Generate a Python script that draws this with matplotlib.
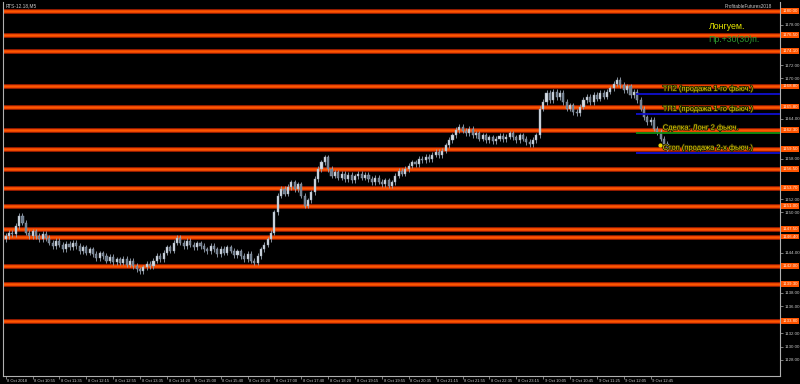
import numpy as np
import matplotlib
matplotlib.use("Agg")
import matplotlib.pyplot as plt
import matplotlib.patheffects as pe
import matplotlib.transforms as mtransforms

plt.rcParams['font.family'] = ['Liberation Sans', 'DejaVu Sans']

# close prices of the M5 candles
closes = [
    1146.5, 1147.0, 1146.8, 1148.0, 1149.5, 1148.5, 1147.0, 1146.5,
    1147.2, 1146.5, 1146.0, 1146.8, 1146.2,
    1145.5, 1145.0, 1145.8, 1145.2, 1144.5, 1145.3, 1144.8, 1145.5, 1145.0, 1144.2, 1144.8,
    1144.0, 1144.5, 1143.8, 1143.2, 1143.9, 1143.5, 1142.8, 1143.4, 1142.6, 1143.0, 1142.5,
    1143.1, 1142.2, 1142.8, 1142.0,
    1141.5, 1141.2, 1141.8, 1142.3,
    1142.0, 1142.8, 1143.5, 1143.0, 1144.0, 1144.8, 1144.3, 1145.5, 1146.2,
    1145.5, 1145.0, 1145.8, 1145.2, 1144.8, 1145.4, 1145.0, 1144.5,
    1144.2, 1145.0, 1144.5, 1143.8, 1144.6, 1144.0, 1144.8, 1144.3, 1143.6, 1144.2, 1143.5,
    1143.0, 1143.8, 1142.8,
    1142.5, 1143.5, 1144.5, 1145.2, 1146.0, 1147.0,
    1150.0, 1152.5, 1153.5, 1152.8, 1153.8, 1154.5,
    1153.5, 1154.2, 1152.5, 1151.0, 1151.8,
    1153.0, 1155.0, 1156.5, 1157.5, 1158.2, 1156.5,
    1155.5, 1156.0, 1155.2, 1155.8, 1155.0, 1155.6, 1154.8, 1155.4, 1155.8, 1155.2, 1155.6,
    1155.0, 1154.5, 1155.2, 1154.6, 1154.2,
    1154.8, 1154.0, 1154.5, 1155.5, 1156.2, 1155.8, 1156.5,
    1157.0, 1157.5, 1157.2, 1158.0, 1157.8, 1158.3, 1158.0, 1158.6, 1159.0, 1158.5, 1159.2,
    1160.0, 1160.8, 1161.5, 1162.3, 1162.8, 1162.2, 1161.8, 1162.5,
    1161.5, 1161.8, 1161.0, 1161.5, 1160.8, 1161.2, 1160.6, 1161.0, 1161.4, 1160.9, 1161.3,
    1161.8, 1161.2, 1160.8, 1161.5, 1161.0, 1160.5,
    1160.2, 1160.8, 1161.5,
    1165.5, 1166.5, 1167.8, 1166.8, 1168.0, 1167.2, 1167.8, 1166.5,
    1165.5, 1166.0, 1165.0, 1164.8, 1165.8, 1166.8,
    1167.2, 1166.5, 1167.5, 1167.0, 1167.8, 1167.3, 1168.0, 1168.5,
    1169.2, 1169.8, 1169.0,
    1168.2, 1168.8, 1167.5, 1168.0, 1166.8,
    1165.5, 1164.2, 1163.5, 1163.8, 1162.5, 1162.0, 1161.0,
    1160.2, 1159.5,
]
first_open = 1146.0

# horizontal support / resistance levels (orange)
levels = [1180.0, 1176.5, 1174.1, 1168.8, 1165.8, 1162.3, 1159.5, 1156.5,
          1153.7, 1151.0, 1147.5, 1146.4, 1142.0, 1139.3, 1133.8]

# trade lines
tp2 = 1167.7
tp1 = 1164.7
entry = 1161.9
stop = 1158.9

time_labels = ["8 Oct 2018", "8 Oct 10:55", "8 Oct 11:35", "8 Oct 12:15", "8 Oct 12:55",
               "8 Oct 13:35", "8 Oct 14:20", "8 Oct 15:00", "8 Oct 15:40", "8 Oct 16:20",
               "8 Oct 17:00", "8 Oct 17:40", "8 Oct 18:20", "8 Oct 19:15", "8 Oct 19:55",
               "8 Oct 20:35", "8 Oct 21:15", "8 Oct 21:55", "8 Oct 22:35", "8 Oct 23:15",
               "9 Oct 10:05", "9 Oct 10:45", "9 Oct 11:25", "9 Oct 12:05", "9 Oct 12:45"]

price_ticks = np.arange(1128, 1181, 2)

closes = np.array(closes)
opens = np.concatenate([[first_open], closes[:-1]])
n = len(closes)
idx = np.arange(n)
highs = np.maximum(opens, closes) + 0.4
lows = np.minimum(opens, closes) - 0.4

fig = plt.figure(figsize=(8, 3.84), dpi=100, facecolor='black')
ax = fig.add_axes([3 / 800, 8 / 384, 777 / 800, 374 / 384])
ax.set_facecolor('black')

ax.set_xlim(-0.8, 230.5)
ax.set_ylim(1125.6, 1181.4)

# candles
ax.vlines(idx, lows, highs, color='#9aa6b4', linewidth=0.6, zorder=3)
up = closes >= opens
body_h = np.maximum(np.abs(closes - opens), 0.08)
body_b = np.minimum(opens, closes)
ax.bar(idx[up], body_h[up], bottom=body_b[up], width=0.62, color='#d4dbe3',
       edgecolor='#9aa6b4', linewidth=0.3, zorder=4)
ax.bar(idx[~up], body_h[~up], bottom=body_b[~up], width=0.62, color='#6f7c8c',
       edgecolor='#9aa6b4', linewidth=0.3, zorder=4)

# orange levels
for lv in levels:
    ax.axhline(lv, color='#a82000', linewidth=3.4, zorder=2)
    ax.axhline(lv, color='#ff5500', linewidth=1.8, zorder=2)
    ax.text(1.003, lv, f"{lv:.2f}", transform=ax.get_yaxis_transform(),
            fontsize=3.2, color='#ffe8d8', va='center', ha='left', clip_on=False,
            bbox=dict(boxstyle='square,pad=0.2', facecolor='#ff5500', edgecolor='none'),
            zorder=6)

# trade lines
x0 = 187.6
ax.hlines([tp2, tp1, stop], x0, 230.5, color='#1010d0', linewidth=1.3, zorder=5)
ax.hlines([entry], x0, 230.5, color='#109010', linewidth=1.3, zorder=5)

outline = [pe.withStroke(linewidth=1.2, foreground='#202000')]
tcol = '#e8d200'
tx = 195.6
ax.text(tx, tp2 + 0.15, "ТП2 (продажа 1-го фьюч.)", color=tcol, fontsize=5.4,
        va='bottom', ha='left', path_effects=outline, zorder=7)
ax.text(tx, tp1 + 0.15, "ТП1 (продажа 1-го фьюч.)", color=tcol, fontsize=5.4,
        va='bottom', ha='left', path_effects=outline, zorder=7)
ax.text(tx, entry + 0.15, "Сделка: Лонг 2 фьюч.", color=tcol, fontsize=5.4,
        va='bottom', ha='left', path_effects=outline, zorder=7)
ax.text(tx, stop + 0.15, "Стоп (продажа 2-х фьюч.)", color=tcol, fontsize=5.4,
        va='bottom', ha='left', path_effects=outline, zorder=7)
ax.plot([194.8], [1160.0], marker='o', markersize=2.0, color='#e8d200', zorder=7)

ax.text(209.2, 1177.7, "Лонгуем.", color='#e6e600', fontsize=6.3, va='center', ha='left', zorder=7)
ax.text(209.2, 1175.8, "Пр.+30(30)п.", color='#2f9a2f', fontsize=6.3, va='center', ha='left', zorder=7)

fig.text(6 / 800, 1 - 6 / 384, "RTS-12.18,M5", color='#c8c8c8', fontsize=3.4, va='center', ha='left')
fig.text(772 / 800, 1 - 6 / 384, "ProfitableFutures2018", color='#c8c8c8', fontsize=3.4,
         va='center', ha='right')

# axes look
ax.spines['top'].set_visible(False)
for s in ['left', 'bottom', 'right']:
    ax.spines[s].set_color('#b0b0b0')
    ax.spines[s].set_linewidth(0.8)

ax.yaxis.tick_right()
yt = [t for t in price_ticks if min(abs(t - lv) for lv in levels) > 0.9]
ax.set_yticks(yt)
ax.set_yticklabels([f"{t:.2f}" for t in yt], fontsize=3.2, color='#c8c8c8')
ax.tick_params(axis='y', length=2, width=0.5, color='#b0b0b0', pad=1)

xt = np.arange(0, len(time_labels) * 8, 8)
ax.set_xticks(xt)
ax.set_xticklabels([])
ax.tick_params(axis='x', length=2, width=0.5, color='#b0b0b0')
trans = mtransforms.blended_transform_factory(ax.transData, ax.transAxes)
for x, lab in zip(xt, time_labels):
    ax.text(x + 0.5, -0.008, lab, transform=trans, fontsize=3.0, color='#c8c8c8',
            va='top', ha='left', clip_on=False)

fig.savefig("out.png", dpi=100, facecolor='black')
